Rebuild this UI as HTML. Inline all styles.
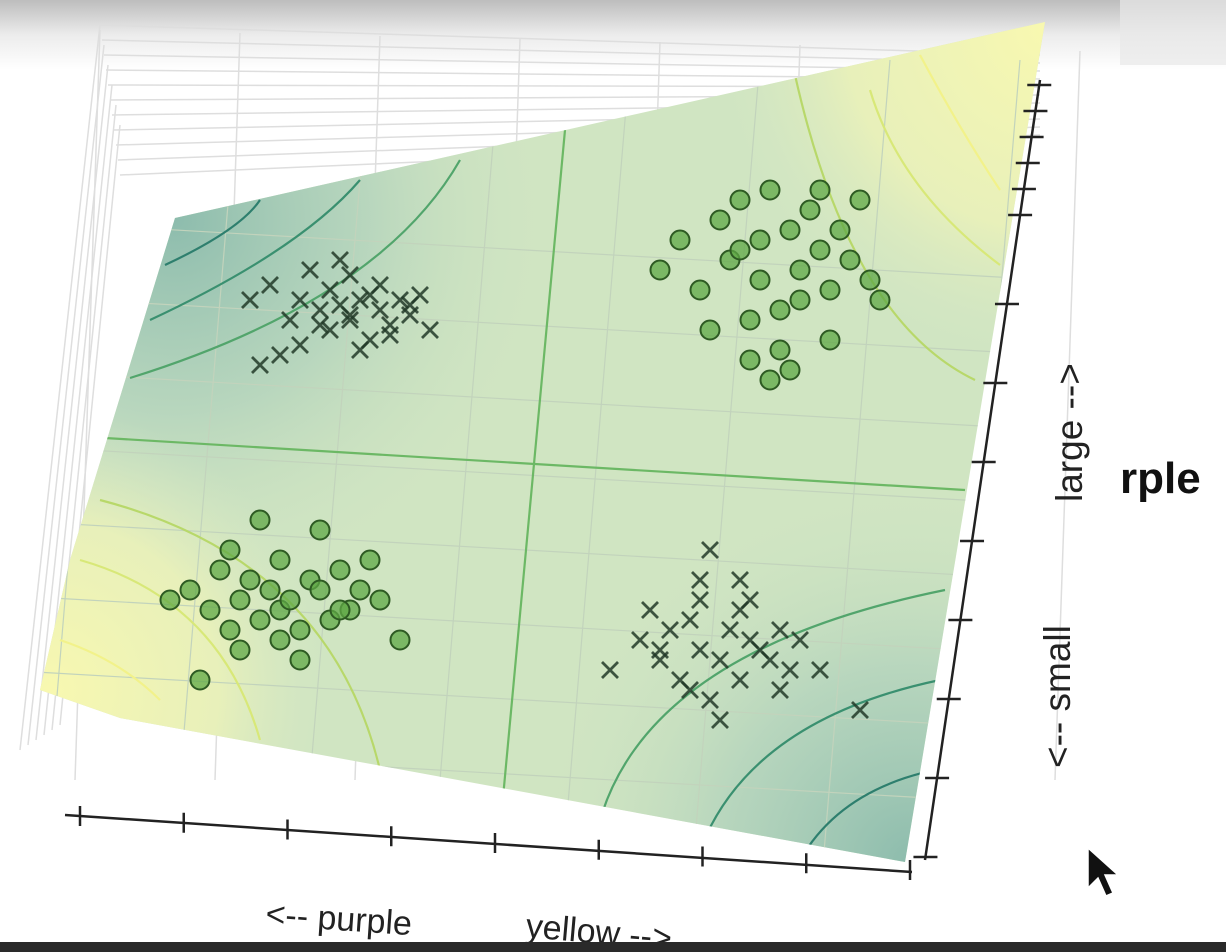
<!DOCTYPE html>
<html><head><meta charset="utf-8"><style>
html,body{margin:0;padding:0;background:#fff;}
svg{display:block;font-family:"Liberation Sans",sans-serif;}
</style></head><body>
<svg id="chart" width="1226" height="952" viewBox="0 0 1226 952">
<defs>
<linearGradient id="topfade" x1="0" y1="0" x2="0" y2="1">
<stop offset="0" stop-color="#bdbdbd"/><stop offset="0.5" stop-color="#ececec"/><stop offset="1" stop-color="#ffffff"/></linearGradient>
<radialGradient id="yTR" cx="1045" cy="30" r="330" gradientUnits="userSpaceOnUse">
<stop offset="0" stop-color="#f8f8b0"/><stop offset="0.6" stop-color="#eef3b8" stop-opacity="0.8"/><stop offset="1" stop-color="#d6e8c4" stop-opacity="0"/></radialGradient>
<radialGradient id="yBL" cx="50" cy="690" r="280" gradientUnits="userSpaceOnUse">
<stop offset="0" stop-color="#f8f8b0"/><stop offset="0.6" stop-color="#eef3b8" stop-opacity="0.8"/><stop offset="1" stop-color="#d6e8c4" stop-opacity="0"/></radialGradient>
<radialGradient id="tTL" cx="175" cy="220" r="380" gradientUnits="userSpaceOnUse">
<stop offset="0" stop-color="#8dbcad"/><stop offset="0.5" stop-color="#b1d2bc" stop-opacity="0.8"/><stop offset="1" stop-color="#d0e4c2" stop-opacity="0"/></radialGradient>
<radialGradient id="tBR" cx="910" cy="860" r="380" gradientUnits="userSpaceOnUse">
<stop offset="0" stop-color="#8dbcad"/><stop offset="0.5" stop-color="#b1d2bc" stop-opacity="0.8"/><stop offset="1" stop-color="#d0e4c2" stop-opacity="0"/></radialGradient>
<clipPath id="planeClip"><polygon points="175,218 1045,22 905,862 120,718 40,690 70,560"/></clipPath>
</defs>
<rect x="0" y="0" width="1226" height="70" fill="url(#topfade)"/>
<rect x="1120" y="0" width="106" height="65" fill="#e8e8e8" opacity="0.7"/>
<g id="grid" stroke="#dedede" stroke-width="1.5" fill="none"></g>
<g clip-path="url(#planeClip)">
<rect x="0" y="0" width="1226" height="952" fill="#d0e5c2"/>
<rect x="0" y="0" width="1226" height="952" fill="url(#tTL)"/>
<rect x="0" y="0" width="1226" height="952" fill="url(#tBR)"/>
<rect x="0" y="0" width="1226" height="952" fill="url(#yTR)"/>
<rect x="0" y="0" width="1226" height="952" fill="url(#yBL)"/>
<g id="innergrid" stroke="#c2d3bc" stroke-width="1.2" fill="none"></g>
<g fill="none" stroke-width="2.2">
<path d="M565,130 L500,830" stroke="#6cb865"/>
<path d="M105,438 L965,490" stroke="#6cb865"/>
<path d="M165,265 Q240,230 260,200" stroke="#2e7f6e"/>
<path d="M150,320 Q300,250 360,180" stroke="#3a9070"/>
<path d="M130,378 Q380,300 460,160" stroke="#52a56c"/>
<path d="M1000,265 Q900,190 870,90" stroke="#d8e878"/>
<path d="M975,380 Q850,320 795,75" stroke="#b8d86a"/>
<path d="M1000,190 Q960,130 920,55" stroke="#f2f28a"/>
<path d="M60,640 Q120,660 160,700" stroke="#f2f28a"/>
<path d="M80,560 Q220,600 260,740" stroke="#d8e878"/>
<path d="M100,500 Q330,560 380,770" stroke="#b8d86a"/>
<path d="M600,820 Q650,650 945,590" stroke="#52a56c"/>
<path d="M700,850 Q750,720 940,680" stroke="#3a9070"/>
<path d="M800,860 Q840,790 935,770" stroke="#2e7f6e"/>
</g>
</g>
<g id="points"></g>
<g stroke="#222" stroke-width="2.5" fill="none">
<path d="M65,815 L912,872"/>
<path d="M1040,80 L925,860"/>
<g id="ticks"></g>
</g>
<text x="265" y="925" font-size="34" fill="#222" transform="rotate(4 265 925)">&lt;-- purple</text>
<text x="525" y="937" font-size="34" fill="#222" transform="rotate(5 525 937)">yellow --&gt;</text>
<text x="1082" y="502" font-size="37" fill="#222" transform="rotate(-90 1082 502)">large --&gt;</text>
<text x="1070" y="768" font-size="37" fill="#222" transform="rotate(-90 1070 768)">&lt;-- small</text>
<text x="1120" y="493" font-size="44" font-weight="bold" fill="#111">rple</text>
<path d="M1088,848 L1088,888 L1098,878 L1106,896 L1113,893 L1105,875 L1118,875 Z" fill="#111" stroke="#fff" stroke-width="1.5"/>
<rect x="0" y="942" width="1226" height="10" fill="#2a2a2a"/>
</svg>
<script>
const xClusterAx = [25,27,29,30,31,32,33,33,34,35,35,36,37,38,38,39,40,41,42,43,28,30,32,34,36,37,39,41,26,35];
const xClusterAy = [60,61.5,58,60,63,59,61,57,59.5,62.5,58,60,56,59,61.5,57.5,60,58.5,60.5,57,54.5,55.5,57.5,64,55,60.5,56.5,59.5,53.5,58.5];
const xClusterBx = [61,64,65,66,67,68,69,70,70,71,72,73,74,74,75,76,77,78,79,80,82,86,66,70,74,78,72,69,75,71];
const xClusterBy = [23,26,29,24,27,22,28,25,30,20,24,27,29,22,26,25,24,27,23,26,23,19,25,32,32,21,18,21,30,35];
const oClusterAx = [66,68,70,72,73,74,75,76,76,77,78,79,80,80,81,82,83,84,85,86,87,88,71,75,79,83,74,78,82,77];
const oClusterAy = [63,66,61,68,64,70,58,66,62,71,55,67,63,60,69,65,61,67,64,70,62,60,57,54,53,56,65,59,71,52];
const oClusterBx = [17,19,21,22,23,24,25,26,27,28,28,29,30,31,32,33,34,35,36,38,40,20,24,30,26,32,23,28,34,37];
const oClusterBy = [30,31,29,33,27,30,32,28,31,34,29,30,27,32,31,28,33,29,31,30,26,22,25,24,38,37,35,26,29,34];
const xTickCount = 9;
const yTickCount = 14;

const NS="http://www.w3.org/2000/svg";
function xScale(v){return v*10;}
function yScale(v){return 900-v*10;}
function mk(tag,attrs,parent){const e=document.createElementNS(NS,tag);for(const k in attrs)e.setAttribute(k,attrs[k]);parent.appendChild(e);return e;}

const grid=document.getElementById('grid');
for(let i=0;i<11;i++){
  const l=mk('path',{d:`M${100+i*2},${25+i*15} L${1040},${55+i*8}`},grid);
  
  
}
for(let i=0;i<6;i++){
  const l=mk('path',{d:`M${20+i*8},${750-i*5} L${100+i*4},${25+i*20}`},grid);
  
  
}
for(let i=0;i<8;i++){
  const x0=145+i*140;
  const l=mk('path',{d:`M${x0-45},${30+i*3} L${x0-70},${780}`},grid);
  
  
}
const ig=document.getElementById('innergrid');
for(let i=0;i<8;i++){
  const x0=110+i*130;
  const l=mk('path',{d:`M${x0},${60} L${x0-70},${900}`},ig);
  
  
}
for(let i=0;i<9;i++){
  const y0=230+i*75;
  const l=mk('path',{d:`M0,${y0-10} L1226,${y0+60}`},ig);
  
  
}

const pts=document.getElementById('points');
function circles(xs,ys,name){
  xs.forEach((v,i)=>{
    const c=mk('circle',{cx:xScale(v),cy:yScale(ys[i]),r:9.5,fill:'#5fa845','fill-opacity':0.75,stroke:'#2d5a22','stroke-width':2},pts);
    
    
  });
}
function crosses(xs,ys,name){
  xs.forEach((v,i)=>{
    const x=xScale(v),y=yScale(ys[i]);
    const p=mk('path',{d:`M${x-8},${y-8}L${x+8},${y+8}M${x+8},${y-8}L${x-8},${y+8}`,stroke:'#223a28','stroke-width':2.8,'stroke-opacity':0.85},pts);
    
    
  });
}
crosses(xClusterAx,xClusterAy,'cross-point');
crosses(xClusterBx,xClusterBy,'cross-point');
circles(oClusterAx,oClusterAy,'circle-point');
circles(oClusterBx,oClusterBy,'circle-point');

const tk=document.getElementById('ticks');
for(let i=0;i<xTickCount;i++){
  const t=i/(xTickCount-1);
  const x=80+t*(910-80), y=816+t*(870-816);
  const p=mk('path',{d:`M${x},${y-10} L${x},${y+10}`},tk);
  
  
}
for(let i=0;i<yTickCount;i++){
  let y,x;
  if(i<6){y=85+i*26;}else{y=225+(i-5)*79;}
  const t=(y-80)/(860-80);
  x=1040-t*(1040-925);
  const p=mk('path',{d:`M${x-12},${y} L${x+12},${y}`},tk);
  
  
}
</script>
</body></html>
